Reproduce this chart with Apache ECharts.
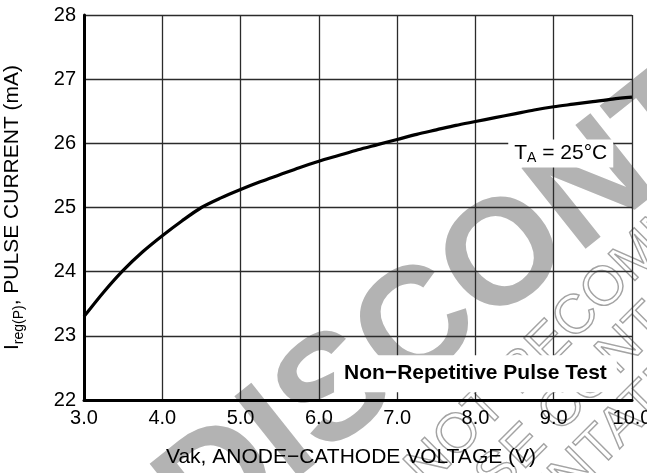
<!DOCTYPE html>
<html>
<head>
<meta charset="utf-8">
<script src="https://cdn.jsdelivr.net/npm/echarts@6/dist/echarts.min.js"></script>
<style>
  html, body { margin: 0; padding: 0; background: #fff; }
  #chart { width: 647px; height: 473px; }
</style>
</head>
<body>
<div id="chart"></div>
<script>
// Pulse current vs. anode-cathode voltage, TA = 25 °C
const volts   = [3.0, 3.25, 3.5, 3.75, 4.0, 4.25, 4.5, 4.75, 5.0, 5.25, 5.5, 5.75, 6.0, 6.25, 6.5, 6.75,
                 7.0, 7.25, 7.5, 7.75, 8.0, 8.25, 8.5, 8.75, 9.0, 9.25, 9.5, 9.75, 10.0];
const current = [23.30, 23.68, 24.02, 24.31, 24.56, 24.79, 25.00, 25.15, 25.28, 25.40, 25.51, 25.62, 25.72, 25.81, 25.90, 25.98,
                 26.06, 26.14, 26.21, 26.28, 26.34, 26.40, 26.46, 26.52, 26.57, 26.61, 26.65, 26.69, 26.72];

const xTicks = [3, 4, 5, 6, 7, 8, 9, 10];
const yTicks = [22, 23, 24, 25, 26, 27, 28];

const FONT = "'Liberation Sans', Arial, Helvetica, sans-serif";

const points = volts.map((v, i) => [v, current[i]]);

const chart = echarts.init(document.getElementById('chart'), null, { renderer: 'canvas' });

const option = {
  animation: false,
  backgroundColor: '#fff',
  grid: { left: 84, right: 15, top: 15, bottom: 73, containLabel: false, outerBoundsMode: 'none' },
  xAxis: {
    type: 'value',
    min: xTicks[0],
    max: xTicks[xTicks.length - 1],
    interval: xTicks[1] - xTicks[0],
    axisLine: { show: true, onZero: false, lineStyle: { color: '#000', width: 3 } },
    axisTick: { show: false },
    axisLabel: {
      color: '#000', fontFamily: FONT, fontSize: 20, margin: 8,
      hideOverlap: false, showMaxLabel: true,
      formatter: v => v.toFixed(1)
    },
    splitLine: { show: true, lineStyle: { color: '#2b2b2b', width: 1.3 } },
    name: 'Vak, ANODE\u2212CATHODE VOLTAGE (V)',
    nameLocation: 'middle',
    nameGap: 47,
    nameTextStyle: { color: '#000', fontFamily: FONT, fontSize: 21, padding: [0, 14, 0, 0] }
  },
  yAxis: {
    type: 'value',
    min: yTicks[0],
    max: yTicks[yTicks.length - 1],
    interval: yTicks[1] - yTicks[0],
    axisLine: { show: true, onZero: false, lineStyle: { color: '#000', width: 3 } },
    axisTick: { show: false },
    axisLabel: { color: '#000', fontFamily: FONT, fontSize: 20, margin: 8 },
    splitLine: { show: true, lineStyle: { color: '#2b2b2b', width: 1.3 } },
    name: '{m|I}{s|reg(P)}{m|, PULSE CURRENT (mA)}',
    nameLocation: 'middle',
    nameGap: 58,
    nameTextStyle: {
      color: '#000', fontFamily: FONT, fontSize: 21,
      rich: {
        m: { fontFamily: FONT, fontSize: 21, lineHeight: 28, color: '#000' },
        s: { fontFamily: FONT, fontSize: 14, lineHeight: 14, color: '#000', verticalAlign: 'bottom' }
      }
    }
  },
  series: [{
    type: 'line',
    data: points,
    smooth: 0.3,
    symbol: 'none',
    lineStyle: { color: '#000', width: 3.2 },
    z: 3
  }]
};

chart.setOption(option);

// Annotation anchors in data units
const tempNoteAt  = [9.09, 25.84];
const pulseNoteAt = [8.0, 22.41];
const tp = chart.convertToPixel({ gridIndex: 0 }, tempNoteAt);
const pp = chart.convertToPixel({ gridIndex: 0 }, pulseNoteAt);

const deg = d => d * Math.PI / 180;
const outline = (id, text, x, y) => ({
  id, type: 'text', x, y, rotation: deg(45), z: -10, silent: true,
  style: {
    text, fill: 'rgba(0,0,0,0)', stroke: '#a3a3a3', lineWidth: 1.4,
    font: '55px ' + FONT, align: 'center', verticalAlign: 'middle'
  }
});

chart.setOption({
  graphic: [
    // watermark, behind the grid
    {
      id: 'wm-main', type: 'text', x: 627, y: 163, rotation: deg(38.5), z: -10, silent: true,
      style: {
        text: 'DISCONTINUED', fill: '#b3b3b3',
        font: 'bold 150px ' + FONT, align: 'center', verticalAlign: 'middle'
      }
    },
    outline('wm-l1', 'IS NOT RECOMMENDED', 595, 299),
    outline('wm-l2', 'PLEASE CONTACT', 560, 412),
    outline('wm-l3', 'REPRESENTATIVE', 546, 501),
    // condition notes
    {
      id: 'note-temp', type: 'text', x: tp[0], y: tp[1], z: 20,
      style: {
        text: '{m|T}{s|A}{m| = 25°C}',
        align: 'center', verticalAlign: 'middle',
        backgroundColor: '#fff', padding: [2, 6, 2, 6],
        rich: {
          m: { fontFamily: FONT, fontSize: 21, lineHeight: 24, fill: '#000' },
          s: { fontFamily: FONT, fontSize: 14, lineHeight: 14, fill: '#000', verticalAlign: 'bottom' }
        }
      }
    },
    {
      id: 'note-pulse', type: 'text', x: pp[0], y: pp[1], z: 20,
      style: {
        text: 'Non\u2212Repetitive Pulse Test',
        fill: '#000', font: 'bold 21px ' + FONT,
        align: 'center', verticalAlign: 'middle',
        backgroundColor: '#fff', padding: [8, 10, 8, 10]
      }
    }
  ]
});
</script>
</body>
</html>
